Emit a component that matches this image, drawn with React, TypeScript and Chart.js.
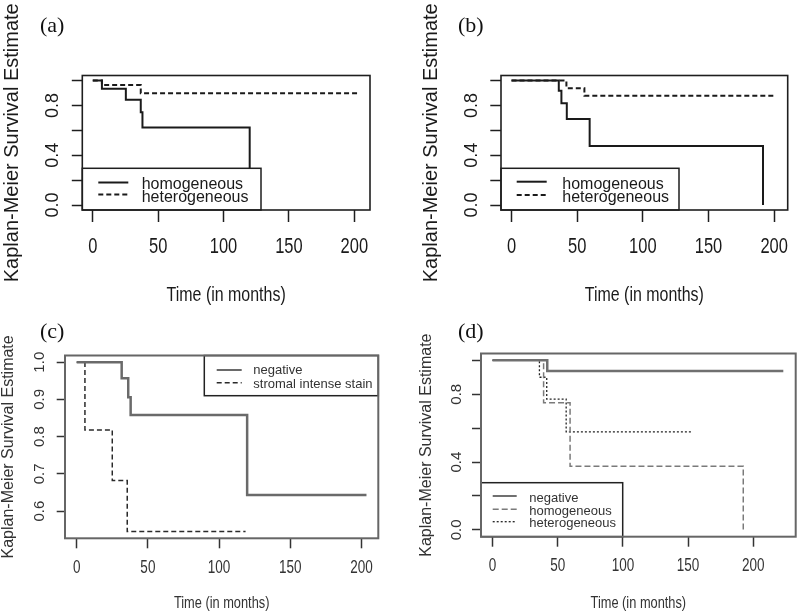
import React, { useEffect, useRef } from 'react';
import { Chart, registerables } from 'chart.js';

Chart.register(...registerables);

// ---------- data ----------
const xTickValues = [0, 50, 100, 150, 200];
const yTickValuesFull = [0, 0.2, 0.4, 0.6, 0.8, 1.0];
const yLabeledFull = [0, 0.4, 0.8];
const yTickValuesC = [0.6, 0.7, 0.8, 0.9, 1.0];

const xTitle = 'Time (in months)';
const yTitle = 'Kaplan-Meier Survival Estimate';

const legendAB = ['homogeneous', 'heterogeneous'];
const legendC = ['negative', 'stromal intense stain'];
const legendD = ['negative', 'homogeneous', 'heterogeneous'];

// panel (a)
const aHomoTime = [0, 7, 25.3, 36.7, 38, 120];
const aHomoSurv = [1, 0.933, 0.846, 0.744, 0.623, 0];
const aHeteTime = [0, 7, 36.7, 202.5];
const aHeteSurv = [1, 0.963, 0.898, 0.898];

// panel (b)
const bHomoTime = [0, 36, 38, 42.1, 59.5, 191.5];
const bHomoSurv = [1, 0.917, 0.817, 0.691, 0.474, 0];
const bHeteTime = [0, 41.8, 55.5, 201];
const bHeteSurv = [1, 0.938, 0.878, 0.878];

// panel (c)
const cNegTime = [0, 31.6, 36.2, 37.9, 119.7, 203.5];
const cNegSurv = [1, 0.957, 0.906, 0.858, 0.643, 0.643];
const cStromTime = [0, 5.8, 25, 35.5, 118.6];
const cStromSurv = [1, 0.818, 0.682, 0.545, 0.545];

// panel (d)
const dNegTime = [0, 42, 223];
const dNegSurv = [1, 0.9375, 0.9375];
const dHomoTime = [0, 39.2, 59.5, 192.3];
const dHomoSurv = [1, 0.75, 0.375, 0];
const dHeteTime = [0, 36, 41.6, 56.5, 152.8];
const dHeteSurv = [1, 0.9, 0.771, 0.578, 0.578];

// ---------- styling ----------
const SANS = "'Liberation Sans', Arial, sans-serif";
const SERIF = "'Liberation Serif', 'Times New Roman', serif";

type Series = { time: number[]; surv: number[]; label: string; color: string; width: number; dash: number[] };

type Spec = {
  tag: string;
  left: number; top: number; w: number; h: number;
  area: { left: number; top: number; right: number; bottom: number };
  xMin: number; xMax: number; yMin: number; yMax: number;
  yTicks: number[]; yLabeled: number[];
  frameColor: string; frameWidth: number; tickColor: string; textColor: string;
  xTickLen: number; yTickLen: number;
  xTickFont: number; xTickBase: number; xSqueeze: number;
  yTickFont: number; yTickPad: number;
  xTitleFont: number; xTitleBase: number; xTitleSqueeze: number;
  yTitleFont: number; yTitlePad: number;
  tagPos: [number, number];
  series: Series[];
  legend: {
    box: [number, number, number, number];
    lineX: [number, number]; lineY: number[];
    textX: number; baselines: number[]; font: number;
    frameColor: string;
  };
};

const specs: Spec[] = [
  {
    tag: '(a)', left: 0, top: 0, w: 400, h: 308,
    area: { left: 82.3, top: 75.5, right: 370, bottom: 210 },
    xMin: -8, xMax: 212, yMin: -0.04, yMax: 1.04,
    yTicks: yTickValuesFull, yLabeled: yLabeledFull,
    frameColor: '#1e1e1e', frameWidth: 1.6, tickColor: '#1e1e1e', textColor: '#1a1a1a',
    xTickLen: 12, yTickLen: 10.5,
    xTickFont: 22, xTickBase: 253.2, xSqueeze: 0.75,
    yTickFont: 18, yTickPad: 6,
    xTitleFont: 21, xTitleBase: 301, xTitleSqueeze: 0.76,
    yTitleFont: 20, yTitlePad: 2.5,
    tagPos: [40, 26],
    series: [
      { time: aHomoTime, surv: aHomoSurv, label: legendAB[0], color: '#1a1a1a', width: 2, dash: [] },
      { time: aHeteTime, surv: aHeteSurv, label: legendAB[1], color: '#1a1a1a', width: 2, dash: [5, 3] },
    ],
    legend: {
      box: [82.3, 168.3, 261, 210], lineX: [98.3, 128.3], lineY: [182.5, 194.5],
      textX: 141.7, baselines: [188.5, 201.5], font: 16, frameColor: '#1e1e1e',
    },
  },
  {
    tag: '(b)', left: 400, top: 0, w: 398, h: 308,
    area: { left: 101, top: 75.5, right: 387.7, bottom: 210 },
    xMin: -8, xMax: 210.3, yMin: -0.04, yMax: 1.04,
    yTicks: yTickValuesFull, yLabeled: yLabeledFull,
    frameColor: '#1e1e1e', frameWidth: 1.6, tickColor: '#1e1e1e', textColor: '#1a1a1a',
    xTickLen: 12, yTickLen: 10.7,
    xTickFont: 22, xTickBase: 253.2, xSqueeze: 0.75,
    yTickFont: 18, yTickPad: 6.1,
    xTitleFont: 21, xTitleBase: 301, xTitleSqueeze: 0.76,
    yTitleFont: 20, yTitlePad: 21.7,
    tagPos: [58, 26],
    series: [
      { time: bHomoTime, surv: bHomoSurv, label: legendAB[0], color: '#1a1a1a', width: 2, dash: [] },
      { time: bHeteTime, surv: bHeteSurv, label: legendAB[1], color: '#1a1a1a', width: 2, dash: [5, 3] },
    ],
    legend: {
      box: [101, 168.3, 279, 210], lineX: [116.7, 146.7], lineY: [181.7, 195],
      textX: 162.3, baselines: [188.5, 201.5], font: 16, frameColor: '#1e1e1e',
    },
  },
  {
    tag: '(c)', left: 0, top: 308, w: 400, h: 308,
    area: { left: 65, top: 47.5, right: 378.3, bottom: 230.3 },
    xMin: -8.2, xMax: 211.8, yMin: 0.527, yMax: 1.018,
    yTicks: yTickValuesC, yLabeled: yTickValuesC,
    frameColor: '#666666', frameWidth: 2, tickColor: '#333333', textColor: '#333333',
    xTickLen: 10, yTickLen: 8.3,
    xTickFont: 18, xTickBase: 265.1, xSqueeze: 0.75,
    yTickFont: 15, yTickPad: 6.3,
    xTitleFont: 16, xTitleBase: 300.2, xTitleSqueeze: 0.8,
    yTitleFont: 16, yTitlePad: 0.3,
    tagPos: [40, 24],
    series: [
      { time: cNegTime, surv: cNegSurv, label: legendC[0], color: '#6a6a6a', width: 2.5, dash: [] },
      { time: cStromTime, surv: cStromSurv, label: legendC[1], color: '#2a2a2a', width: 1.5, dash: [5, 3] },
    ],
    legend: {
      box: [204.3, 47.5, 378.3, 87.7], lineX: [216.7, 241.7], lineY: [62, 74.7],
      textX: 253.3, baselines: [66, 79.5], font: 13, frameColor: '#222222',
    },
  },
  {
    tag: '(d)', left: 400, top: 308, w: 398, h: 308,
    area: { left: 81, top: 45.5, right: 395.7, bottom: 228.7 },
    xMin: -8.8, xMax: 232.5, yMin: -0.04, yMax: 1.04,
    yTicks: yTickValuesFull, yLabeled: yLabeledFull,
    frameColor: '#666666', frameWidth: 2, tickColor: '#333333', textColor: '#333333',
    xTickLen: 10, yTickLen: 9,
    xTickFont: 18, xTickBase: 263.4, xSqueeze: 0.75,
    yTickFont: 15, yTickPad: 4.6,
    xTitleFont: 16, xTitleBase: 300.2, xTitleSqueeze: 0.8,
    yTitleFont: 16, yTitlePad: 19,
    tagPos: [58, 24],
    series: [
      { time: dNegTime, surv: dNegSurv, label: legendD[0], color: '#707070', width: 2.5, dash: [] },
      { time: dHomoTime, surv: dHomoSurv, label: legendD[1], color: '#7a7a7a', width: 1.5, dash: [6, 3] },
      { time: dHeteTime, surv: dHeteSurv, label: legendD[2], color: '#222222', width: 1.3, dash: [2, 2] },
    ],
    legend: {
      box: [81, 174.7, 222.7, 228.7], lineX: [92.7, 116.7], lineY: [188, 201.3, 213.7],
      textX: 129.3, baselines: [193.7, 207, 219.3], font: 13, frameColor: '#222222',
    },
  },
];

function squeezedText(
  ctx: CanvasRenderingContext2D, text: string, cx: number, baseline: number,
  size: number, squeeze: number, color: string,
) {
  ctx.save();
  ctx.translate(cx, baseline);
  ctx.scale(squeeze, 1);
  ctx.font = `${size}px ${SANS}`;
  ctx.fillStyle = color;
  ctx.textAlign = 'center';
  ctx.textBaseline = 'alphabetic';
  ctx.fillText(text, 0, 0);
  ctx.restore();
}

function Panel({ spec }: { spec: Spec }) {
  const ref = useRef<HTMLCanvasElement>(null);

  useEffect(() => {
    const s = spec;
    const framePlugin = {
      id: 'rframe' + s.tag,
      afterDatasetsDraw(chart: any) {
        const ctx: CanvasRenderingContext2D = chart.ctx;
        const a = chart.chartArea;
        ctx.save();
        // legend box
        const L = s.legend;
        const [bl, bt, br, bb] = L.box;
        ctx.fillStyle = '#ffffff';
        ctx.fillRect(bl, bt, br - bl, bb - bt);
        ctx.strokeStyle = L.frameColor;
        ctx.lineWidth = 1.5;
        ctx.strokeRect(bl, bt, br - bl, bb - bt);
        s.series.forEach((se, i) => {
          ctx.beginPath();
          ctx.strokeStyle = se.color;
          ctx.lineWidth = Math.min(se.width, 2);
          ctx.setLineDash(se.dash);
          ctx.moveTo(L.lineX[0], L.lineY[i]);
          ctx.lineTo(L.lineX[1], L.lineY[i]);
          ctx.stroke();
          ctx.setLineDash([]);
          ctx.fillStyle = s.textColor;
          ctx.font = `${L.font}px ${SANS}`;
          ctx.textBaseline = 'alphabetic';
          ctx.textAlign = 'left';
          ctx.fillText(se.label, L.textX, L.baselines[i]);
        });
        // plot frame
        ctx.strokeStyle = s.frameColor;
        ctx.lineWidth = s.frameWidth;
        ctx.setLineDash([]);
        ctx.strokeRect(a.left, a.top, a.right - a.left, a.bottom - a.top);
        // x tick labels, positioned by the chart's x scale
        const xs = chart.scales.x;
        xs.ticks.forEach((t: any) => {
          squeezedText(ctx, String(t.value), xs.getPixelForValue(t.value), s.xTickBase,
            s.xTickFont, s.xSqueeze, s.textColor);
        });
        // x axis title
        squeezedText(ctx, xTitle, (a.left + a.right) / 2, s.xTitleBase,
          s.xTitleFont, s.xTitleSqueeze, s.textColor);
        // panel tag
        ctx.fillStyle = '#111111';
        ctx.font = `22px ${SERIF}`;
        ctx.textBaseline = 'middle';
        ctx.textAlign = 'left';
        ctx.fillText(s.tag, s.tagPos[0], s.tagPos[1]);
        ctx.restore();
      },
    };

    const chart = new Chart(ref.current as HTMLCanvasElement, {
      type: 'line',
      data: {
        datasets: s.series.map((se) => ({
          label: se.label,
          data: se.time.map((t, i) => ({ x: t, y: se.surv[i] })),
          stepped: 'before' as const,
          borderColor: se.color,
          borderWidth: se.width,
          borderDash: se.dash,
          borderCapStyle: 'butt' as const,
          pointRadius: 0,
          fill: false,
          tension: 0,
        })),
      },
      options: {
        animation: false,
        responsive: false,
        devicePixelRatio: 1,
        layout: {
          autoPadding: false,
          padding: { left: 0, top: s.area.top, right: s.w - s.area.right, bottom: 0 },
        },
        plugins: { legend: { display: false }, tooltip: { enabled: false } },
        scales: {
          x: {
            type: 'linear',
            min: s.xMin,
            max: s.xMax,
            afterBuildTicks: (sc: any) => {
              sc.ticks = xTickValues.map((v) => ({ value: v }));
            },
            afterFit: (sc: any) => {
              sc.height = s.h - s.area.bottom;
            },
            grid: {
              display: true,
              drawOnChartArea: false,
              drawTicks: true,
              tickLength: s.xTickLen,
              tickWidth: 1.5,
              tickColor: s.tickColor,
            },
            border: { display: false },
            ticks: { display: false, autoSkip: false },
            title: { display: false },
          },
          y: {
            type: 'linear',
            min: s.yMin,
            max: s.yMax,
            afterBuildTicks: (sc: any) => {
              sc.ticks = s.yTicks.map((v) => ({ value: v }));
            },
            afterFit: (sc: any) => {
              sc.width = s.area.left;
            },
            grid: {
              display: true,
              drawOnChartArea: false,
              drawTicks: true,
              tickLength: s.yTickLen,
              tickWidth: 1.5,
              tickColor: s.tickColor,
            },
            border: { display: false },
            ticks: {
              autoSkip: false,
              minRotation: 90,
              maxRotation: 90,
              crossAlign: 'center',
              padding: s.yTickPad,
              color: s.textColor,
              font: { family: SANS, size: s.yTickFont, lineHeight: 1 },
              callback: (v: any) =>
                s.yLabeled.some((l) => Math.abs(l - v) < 1e-6) ? Number(v).toFixed(1) : '',
            },
            title: {
              display: true,
              text: yTitle,
              color: s.textColor,
              font: { family: SANS, size: s.yTitleFont, lineHeight: 1 },
              padding: { top: s.yTitlePad, bottom: 0 },
            },
          },
        },
      },
      plugins: [framePlugin],
    } as any);

    return () => chart.destroy();
  }, [spec]);

  return (
    <canvas
      ref={ref}
      width={spec.w}
      height={spec.h}
      style={{ position: 'absolute', left: spec.left, top: spec.top, width: spec.w, height: spec.h }}
    />
  );
}

export default function App() {
  return (
    <div style={{ position: 'fixed', left: 0, top: 0, width: 798, height: 616, background: '#ffffff', overflow: 'hidden' }}>
      {specs.map((s) => (
        <Panel key={s.tag} spec={s} />
      ))}
    </div>
  );
}
